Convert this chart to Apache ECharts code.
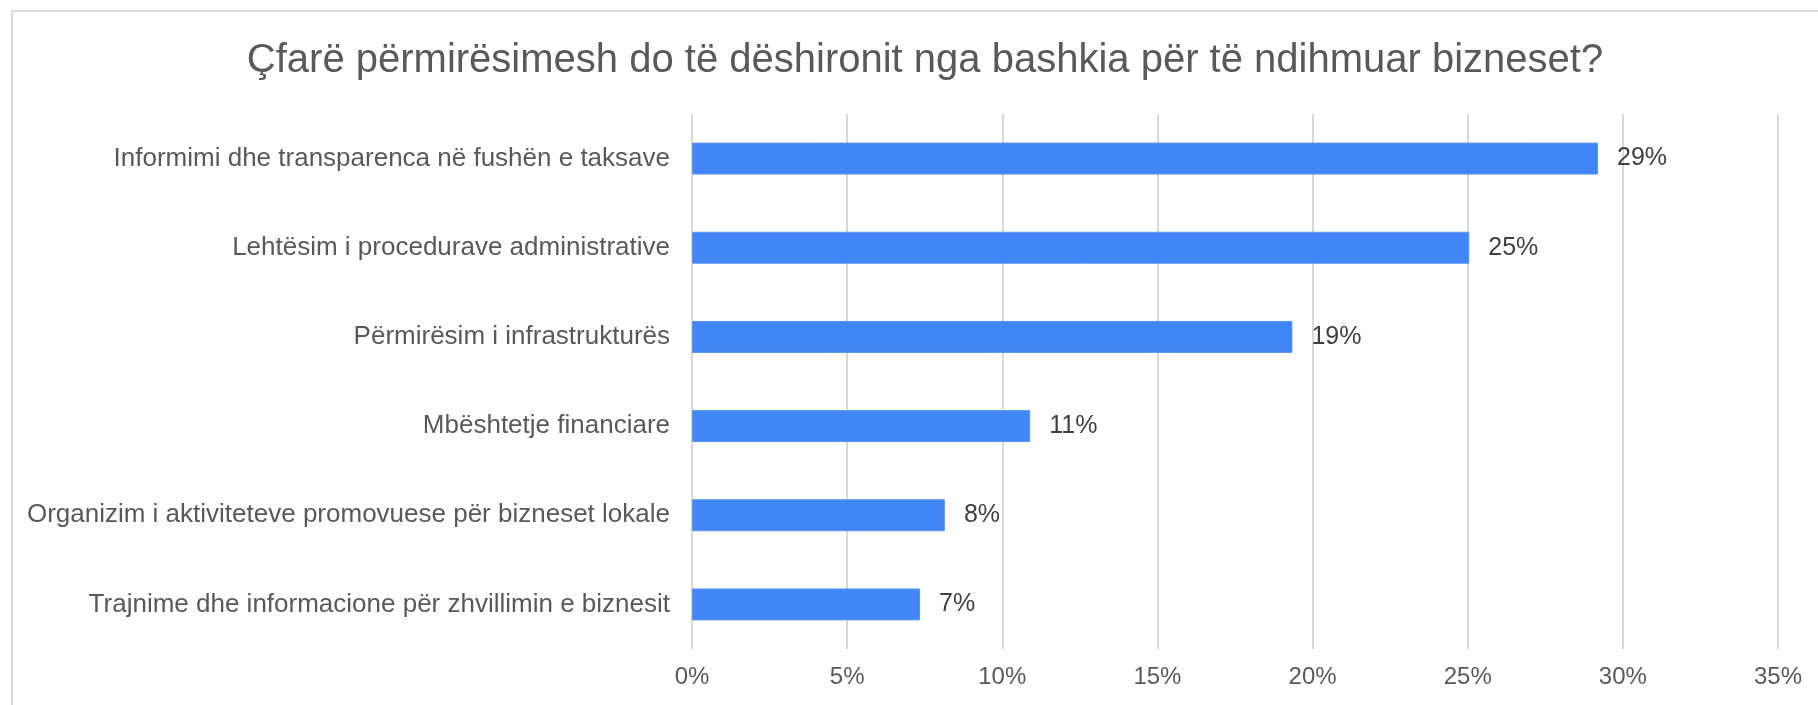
<!DOCTYPE html>
<html>
<head>
<meta charset="utf-8">
<script src="https://cdn.jsdelivr.net/npm/echarts@6/dist/echarts.min.js"></script>
<style>
    html, body { margin: 0; padding: 0; background: #fff; }
    .frame {
        position: absolute;
        left: 11px;
        top: 10px;
        width: 1820px;
        height: 720px;
        border-top: 2px solid #dcdcdc;
        border-left: 2px solid #dcdcdc;
    }
    .echarts { position: absolute; left: 0; top: 0; width: 1818px; height: 705px; }
</style>
</head>
<body>
<div class="frame"></div>
<div class="echarts" id="chart"></div>
<script>
// data
let titleText = 'Çfarë përmirësimesh do të dëshironit nga bashkia për të ndihmuar bizneset?'
let categories = [
    'Informimi dhe transparenca në fushën e taksave',
    'Lehtësim i procedurave administrative',
    'Përmirësim i infrastrukturës',
    'Mbështetje financiare',
    'Organizim i aktiviteteve promovuese për bizneset lokale',
    'Trajnime dhe informacione për zhvillimin e biznesit'
]
let values = [29.2, 25.05, 19.35, 10.9, 8.15, 7.35]
let xTicks = [0, 5, 10, 15, 20, 25, 30, 35]

let font = '"Liberation Sans", Arial, sans-serif'
let myChart = echarts.init(document.getElementById('chart'))

let option = {
    animation: false,
    title: {
        text: titleText,
        left: 920,
        textAlign: 'center',
        top: 36,
        textStyle: {
            fontFamily: font,
            fontSize: 40,
            fontWeight: 'normal',
            color: '#595959'
        }
    },
    grid: {
        left: 692,
        right: 40,
        top: 114,
        bottom: 56
    },
    xAxis: {
        type: 'value',
        min: xTicks[0],
        max: xTicks[xTicks.length - 1],
        interval: 5,
        axisLine: { show: false },
        axisTick: { show: false },
        splitLine: {
            show: true,
            lineStyle: { color: '#d9d9d9', width: 2 }
        },
        axisLabel: {
            margin: 16,
            fontFamily: font,
            fontSize: 24,
            color: '#595959',
            formatter: function (v) { return v + '%' }
        }
    },
    yAxis: {
        type: 'category',
        data: categories,
        inverse: true,
        axisLine: { show: false },
        axisTick: { show: false },
        axisLabel: {
            margin: 22,
            fontFamily: font,
            fontSize: 26,
            color: '#595959'
        }
    },
    series: [
        {
            type: 'bar',
            data: values,
            barWidth: 32,
            itemStyle: {
                color: '#4285f4',
                borderColor: '#5b96f5',
                borderWidth: 1
            },
            label: {
                show: true,
                position: 'right',
                distance: 19,
                fontFamily: font,
                fontSize: 25,
                color: '#404040',
                formatter: function (p) { return Math.round(p.value) + '%' }
            }
        }
    ]
}
myChart.setOption(option)
</script>
</body>
</html>
